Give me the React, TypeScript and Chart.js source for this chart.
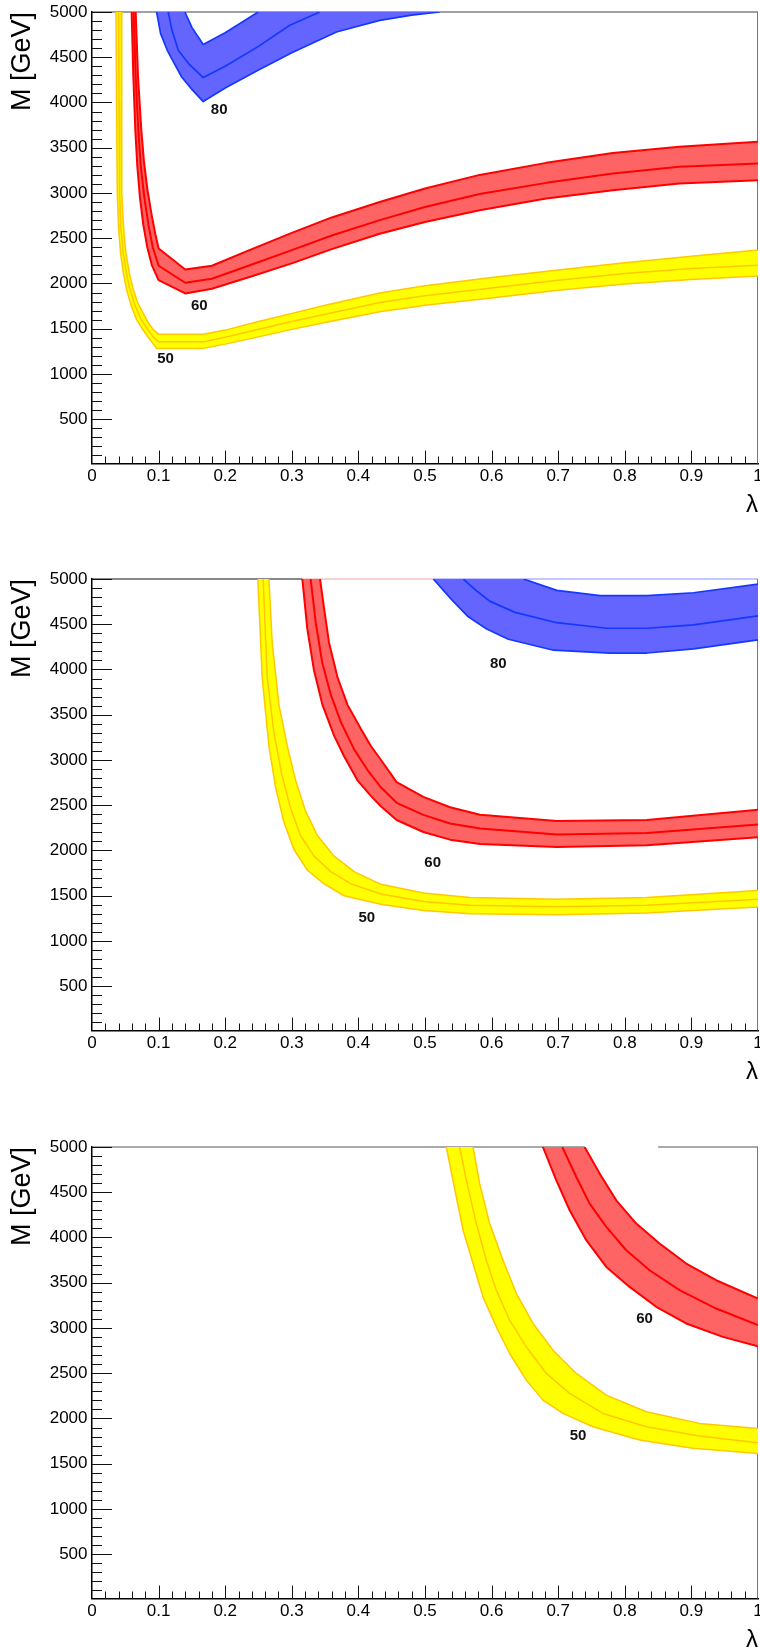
import React, { useEffect, useRef } from 'react';
import { Chart, registerables } from 'chart.js';

Chart.register(...registerables);

type Pt = [number, number];

// ---------- axis ticks ----------
const LAMBDA_TICKS = [0, 0.1, 0.2, 0.3, 0.4, 0.5, 0.6, 0.7, 0.8, 0.9, 1];
const M_TICKS = [500, 1000, 1500, 2000, 2500, 3000, 3500, 4000, 4500, 5000];
const M_MIN = 11;
const M_MAX = 5000;

// ---------- panel 1 ----------
const P1_50_LOW: Pt[] = [[0.036,5000],[0.0368,4000],[0.038,3000],[0.040,2600],[0.043,2330],[0.047,2120],[0.052,1930],[0.059,1750],[0.067,1600],[0.075,1505],[0.082,1430],[0.09,1350],[0.097,1283],[0.167,1283],[0.2,1330],[0.25,1410],[0.3,1493],[0.35,1570],[0.432,1688],[0.5,1760],[0.6,1840],[0.7,1925],[0.8,1995],[0.9,2045],[1,2082]];
const P1_50_MID: Pt[] = [[0.040,5000],[0.0406,4000],[0.0415,3000],[0.0435,2600],[0.047,2330],[0.0515,2120],[0.057,1930],[0.065,1750],[0.074,1600],[0.083,1500],[0.092,1410],[0.1,1355],[0.167,1355],[0.2,1405],[0.25,1495],[0.3,1580],[0.35,1660],[0.432,1790],[0.5,1865],[0.6,1950],[0.7,2035],[0.8,2110],[0.9,2165],[1,2203]];
const P1_50_HIGH: Pt[] = [[0.044,5000],[0.0443,4000],[0.045,3000],[0.048,2550],[0.051,2330],[0.056,2120],[0.062,1930],[0.069,1780],[0.077,1670],[0.085,1560],[0.092,1490],[0.1,1438],[0.167,1438],[0.2,1485],[0.25,1580],[0.3,1670],[0.35,1760],[0.432,1895],[0.5,1975],[0.6,2065],[0.7,2150],[0.8,2230],[0.9,2300],[1,2370]];

const P1_60_LOW: Pt[] = [[0.0595,5000],[0.062,4300],[0.065,3700],[0.068,3300],[0.072,2950],[0.077,2650],[0.083,2400],[0.09,2200],[0.1,2038],[0.14,1890],[0.18,1942],[0.24,2080],[0.3,2222],[0.36,2380],[0.432,2550],[0.5,2680],[0.582,2810],[0.682,2939],[0.782,3031],[0.882,3105],[1,3142]];
const P1_60_MID: Pt[] = [[0.0625,5000],[0.0655,4300],[0.0695,3700],[0.0732,3300],[0.0786,2950],[0.0847,2650],[0.0912,2400],[0.1,2196],[0.14,2008],[0.18,2052],[0.24,2210],[0.3,2369],[0.36,2530],[0.432,2700],[0.5,2845],[0.582,2990],[0.682,3112],[0.782,3215],[0.882,3289],[1,3326]];
const P1_60_HIGH: Pt[] = [[0.0656,5000],[0.069,4300],[0.074,3700],[0.078,3350],[0.083,3050],[0.089,2780],[0.095,2550],[0.1,2387],[0.14,2155],[0.18,2196],[0.24,2380],[0.3,2560],[0.36,2730],[0.432,2900],[0.5,3050],[0.582,3200],[0.682,3333],[0.782,3443],[0.882,3510],[1,3565]];

const P1_80_LOW: Pt[] = [[0.097,5000],[0.103,4761],[0.113,4577],[0.1346,4282],[0.15,4145],[0.167,4010],[0.2,4160],[0.25,4360],[0.3,4550],[0.367,4779],[0.432,4908],[0.48,4965],[0.522,5000]];
const P1_80_MID: Pt[] = [[0.1145,5000],[0.12,4800],[0.1295,4577],[0.145,4430],[0.167,4276],[0.2,4400],[0.25,4620],[0.297,4853],[0.342,5000]];
const P1_80_HIGH: Pt[] = [[0.1395,5000],[0.15,4830],[0.167,4640],[0.2,4770],[0.2495,5000]];

const P1_LABEL_TEXT = ['80', '60', '50'];
const P1_LABEL_LAMBDA = [0.191, 0.161, 0.1105];
const P1_LABEL_M = [3915, 1754, 1166];

// ---------- panel 2 ----------
const P2_50_LOW: Pt[] = [[0.249,5000],[0.2555,3916],[0.2656,3155],[0.2756,2699],[0.288,2318],[0.303,2014],[0.323,1786],[0.348,1633],[0.3785,1500],[0.4337,1405],[0.4975,1337],[0.5676,1302],[0.698,1291],[0.833,1310],[1,1375]];
const P2_50_MID: Pt[] = [[0.257,5000],[0.263,3916],[0.273,3307],[0.2846,2851],[0.298,2470],[0.313,2166],[0.3333,1938],[0.3584,1767],[0.3886,1633],[0.4337,1519],[0.4975,1436],[0.5676,1394],[0.698,1379],[0.833,1394],[1,1462]];
const P2_50_HIGH: Pt[] = [[0.2656,5000],[0.2706,4296],[0.2806,3612],[0.2932,3155],[0.3057,2775],[0.3208,2432],[0.3384,2166],[0.3635,1938],[0.3936,1767],[0.4337,1626],[0.4975,1531],[0.5676,1481],[0.698,1462],[0.833,1481],[1,1557]];

const P2_60_LOW: Pt[] = [[0.3158,5000],[0.3233,4448],[0.3333,3992],[0.3459,3612],[0.3635,3269],[0.3785,3041],[0.3986,2775],[0.4187,2603],[0.4337,2489],[0.4574,2337],[0.4975,2204],[0.5376,2120],[0.5827,2071],[0.6979,2040],[0.8332,2059],[1,2147]];
const P2_60_MID: Pt[] = [[0.3283,5000],[0.3358,4525],[0.3459,4068],[0.3584,3726],[0.3735,3421],[0.3936,3117],[0.4137,2889],[0.4337,2699],[0.4574,2527],[0.4975,2394],[0.5376,2299],[0.5827,2242],[0.6979,2177],[0.8332,2193],[1,2288]];
const P2_60_HIGH: Pt[] = [[0.3424,5000],[0.3484,4677],[0.3559,4296],[0.3685,3916],[0.3835,3612],[0.4036,3345],[0.4187,3155],[0.4337,3003],[0.4574,2756],[0.4975,2592],[0.5376,2478],[0.5827,2394],[0.6979,2326],[0.8332,2337],[1,2451]];

const P2_80_LOW: Pt[] = [[0.5125,5000],[0.54,4772],[0.565,4582],[0.5927,4448],[0.6252,4334],[0.6929,4213],[0.778,4182],[0.8332,4182],[0.9033,4228],[1,4327]];
const P2_80_MID: Pt[] = [[0.5576,5000],[0.5777,4867],[0.5977,4753],[0.6353,4631],[0.6979,4517],[0.7731,4456],[0.8332,4456],[0.9033,4494],[1,4593]];
const P2_80_HIGH: Pt[] = [[0.6478,5000],[0.6979,4874],[0.763,4817],[0.8332,4817],[0.9033,4848],[1,4943]];

const P2_LABEL_TEXT = ['80', '60', '50'];
const P2_LABEL_LAMBDA = [0.61, 0.5115, 0.4126];
const P2_LABEL_M = [4060, 1862, 1261];

// ---------- panel 3 ----------
const P3_50_LOW: Pt[] = [[0.532,5000],[0.545,4522],[0.5572,4080],[0.5721,3712],[0.5871,3344],[0.6071,3013],[0.6271,2718],[0.6521,2424],[0.6771,2203],[0.7072,2056],[0.7522,1909],[0.8222,1762],[0.9022,1670],[1,1614]];
const P3_50_MID: Pt[] = [[0.552,5000],[0.5621,4632],[0.5771,4154],[0.5921,3749],[0.6071,3418],[0.6271,3086],[0.6521,2792],[0.6821,2498],[0.7172,2277],[0.7672,2056],[0.8322,1909],[0.9122,1806],[1,1732]];
const P3_50_HIGH: Pt[] = [[0.5721,5000],[0.5821,4595],[0.5971,4154],[0.6171,3749],[0.6372,3381],[0.6622,3050],[0.6922,2755],[0.7272,2498],[0.7722,2258],[0.8322,2074],[0.9122,1946],[1,1890]];

const P3_60_LOW: Pt[] = [[0.677,5000],[0.6972,4632],[0.7172,4301],[0.7422,3970],[0.7722,3675],[0.8072,3454],[0.8472,3234],[0.8922,3050],[0.9472,2902],[1,2799]];
const P3_60_MID: Pt[] = [[0.7062,5000],[0.7272,4669],[0.7472,4374],[0.7722,4117],[0.8022,3859],[0.8372,3638],[0.8822,3418],[0.9372,3215],[1,3031]];
const P3_60_HIGH: Pt[] = [[0.7397,5000],[0.7622,4706],[0.7872,4411],[0.8172,4154],[0.8522,3933],[0.8922,3712],[0.9372,3528],[1,3326]];

const P3_LABEL_TEXT = ['60', '50'];
const P3_LABEL_LAMBDA = [0.8297, 0.7297];
const P3_LABEL_M = [3105, 1806];

// ---------- styling ----------
const FONT = '"Liberation Sans", Arial, Helvetica, sans-serif';

const BAND_STYLE: Record<number, { fill: string; line: string; width: number }> = {
  50: { fill: '#ffff00', line: '#ffc800', width: 1.5 },
  60: { fill: '#ff6464', line: '#ff0000', width: 2 },
  80: { fill: '#6464ff', line: '#1438ff', width: 1.7 },
};

interface Band { level: number; low: Pt[]; mid: Pt[]; high: Pt[]; }
interface PanelDef {
  bands: Band[];
  labelText: string[];
  labelLambda: number[];
  labelM: number[];
  topFrame: [number, number, string][];
}

const PANELS: PanelDef[] = [
  {
    bands: [
      { level: 50, low: P1_50_LOW, mid: P1_50_MID, high: P1_50_HIGH },
      { level: 60, low: P1_60_LOW, mid: P1_60_MID, high: P1_60_HIGH },
      { level: 80, low: P1_80_LOW, mid: P1_80_MID, high: P1_80_HIGH },
    ],
    labelText: P1_LABEL_TEXT, labelLambda: P1_LABEL_LAMBDA, labelM: P1_LABEL_M,
    topFrame: [[0, 1, '#444']],
  },
  {
    bands: [
      { level: 50, low: P2_50_LOW, mid: P2_50_MID, high: P2_50_HIGH },
      { level: 60, low: P2_60_LOW, mid: P2_60_MID, high: P2_60_HIGH },
      { level: 80, low: P2_80_LOW, mid: P2_80_MID, high: P2_80_HIGH },
    ],
    labelText: P2_LABEL_TEXT, labelLambda: P2_LABEL_LAMBDA, labelM: P2_LABEL_M,
    topFrame: [[0, 0.3158, '#111'], [0.3158, 0.5125, '#f4a0a0'], [0.5125, 1, '#8c8cff']],
  },
  {
    bands: [
      { level: 50, low: P3_50_LOW, mid: P3_50_MID, high: P3_50_HIGH },
      { level: 60, low: P3_60_LOW, mid: P3_60_MID, high: P3_60_HIGH },
    ],
    labelText: P3_LABEL_TEXT, labelLambda: P3_LABEL_LAMBDA, labelM: P3_LABEL_M,
    topFrame: [[0, 0.74, '#555'], [0.85, 1, '#555']],
  },
];

const PANEL_TOPS = [0, 567, 1135];
const CANVAS_W = 760;
const CANVAS_H = 520;

const xy = (p: Pt) => ({ x: p[0], y: p[1] });

function buildDatasets(bands: Band[]) {
  const ds: any[] = [];
  for (const b of bands) {
    const st = BAND_STYLE[b.level];
    // filled band (higher order = drawn earlier, i.e. underneath)
    ds.push({
      data: [...b.low, ...[...b.high].reverse()].map(xy),
      fill: 'shape',
      order: 2,
      backgroundColor: st.fill,
      borderColor: 'rgba(0,0,0,0)',
      borderWidth: 1,
      pointRadius: 0,
      pointHoverRadius: 0,
    });
    for (const line of [b.low, b.mid, b.high]) {
      ds.push({
        data: line.map(xy),
        fill: false,
        order: 1,
        borderColor: st.line,
        backgroundColor: st.line,
        borderWidth: st.width,
        borderJoinStyle: 'round',
        pointRadius: 0,
        pointHoverRadius: 0,
      });
    }
  }
  return ds;
}

function decorPlugin(panel: PanelDef) {
  return {
    id: 'rootDecor',
    beforeDatasetsDraw(chart: any) {
      const { ctx, chartArea: a, scales } = chart;
      const x = scales.x;
      ctx.save();
      ctx.lineWidth = 1.2;
      for (const [from, to, color] of panel.topFrame) {
        ctx.strokeStyle = color;
        ctx.beginPath();
        ctx.moveTo(x.getPixelForValue(from), a.top);
        ctx.lineTo(x.getPixelForValue(to), a.top);
        ctx.stroke();
      }
      ctx.strokeStyle = '#777';
      ctx.lineWidth = 1;
      ctx.beginPath();
      ctx.moveTo(a.right - 0.5, a.top);
      ctx.lineTo(a.right - 0.5, a.bottom);
      ctx.stroke();
      ctx.restore();
    },
    afterDatasetsDraw(chart: any) {
      const { ctx, chartArea: a, scales } = chart;
      const x = scales.x;
      const y = scales.y;
      ctx.save();
      ctx.strokeStyle = '#111';
      ctx.lineWidth = 1;
      // y ticks, drawn inward
      for (let m = 100; m <= M_MAX; m += 100) {
        const py = Math.round(y.getPixelForValue(m)) + 0.5;
        const len = m % 500 === 0 ? 20 : 10;
        ctx.beginPath();
        ctx.moveTo(a.left, py);
        ctx.lineTo(a.left + len, py);
        ctx.stroke();
      }
      // x ticks, drawn inward
      for (let i = 1; i < 50; i++) {
        const px = Math.round(x.getPixelForValue(i / 50)) + 0.5;
        const len = i % 5 === 0 ? 13 : 7;
        ctx.beginPath();
        ctx.moveTo(px, a.bottom);
        ctx.lineTo(px, a.bottom - len);
        ctx.stroke();
      }
      // contour labels
      ctx.fillStyle = '#111';
      ctx.font = `bold 15px ${FONT}`;
      ctx.textAlign = 'center';
      ctx.textBaseline = 'middle';
      panel.labelText.forEach((t, i) => {
        ctx.fillText(t, x.getPixelForValue(panel.labelLambda[i]), y.getPixelForValue(panel.labelM[i]));
      });
      ctx.restore();
    },
  };
}

function PanelChart({ panel, top }: { panel: PanelDef; top: number }) {
  const ref = useRef<HTMLCanvasElement>(null);
  useEffect(() => {
    const canvas = ref.current;
    if (!canvas) return;
    const chart = new Chart(canvas, {
      type: 'line',
      data: { datasets: buildDatasets(panel.bands) },
      options: {
        animation: false,
        responsive: false,
        devicePixelRatio: 1,
        events: [],
        layout: { padding: { top: 12, right: 2, left: 0, bottom: 0 } },
        plugins: { legend: { display: false }, tooltip: { enabled: false } },
        scales: {
          x: {
            type: 'linear',
            min: 0,
            max: 1,
            grid: { display: false, drawTicks: false },
            border: { display: true, color: '#000', width: 1.5 },
            ticks: {
              padding: 3,
              color: '#000',
              font: { family: FONT, size: 17 },
              maxRotation: 0,
              autoSkip: false,
              callback: (v: any) => (v === 0 ? '0' : v === 1 ? '1' : Number(v).toFixed(1)),
            },
            afterBuildTicks: (s: any) => { s.ticks = LAMBDA_TICKS.map((v) => ({ value: v })); },
            afterFit: (s: any) => { s.height = 56.5; s.paddingLeft = 0; s.paddingRight = 0; },
            title: {
              display: true,
              text: 'λ',
              align: 'end',
              color: '#000',
              font: { family: FONT, size: 24 },
              padding: { top: 0, bottom: 0 },
            },
          },
          y: {
            type: 'linear',
            min: M_MIN,
            max: M_MAX,
            grid: { display: false, drawTicks: false },
            border: { display: true, color: '#000', width: 1.5 },
            ticks: {
              padding: 4.5,
              color: '#000',
              font: { family: FONT, size: 17 },
              autoSkip: false,
              callback: (v: any) => String(v),
            },
            afterBuildTicks: (s: any) => { s.ticks = M_TICKS.map((v) => ({ value: v })); },
            afterFit: (s: any) => { s.width = 92; s.paddingTop = 0; s.paddingBottom = 0; },
            title: {
              display: true,
              text: 'M [GeV]',
              align: 'end',
              color: '#000',
              font: { family: FONT, size: 27 },
              padding: { top: 6, bottom: 0 },
            },
          },
        },
      } as any,
      plugins: [decorPlugin(panel)],
    });
    return () => chart.destroy();
  }, [panel]);
  return (
    <canvas
      ref={ref}
      width={CANVAS_W}
      height={CANVAS_H}
      style={{ position: 'absolute', left: 0, top, width: CANVAS_W, height: CANVAS_H }}
    />
  );
}

export default function App() {
  return (
    <div
      style={{
        position: 'absolute',
        left: 0,
        top: 0,
        width: 760,
        height: 1650,
        overflow: 'hidden',
        background: '#fff',
      }}
    >
      {PANELS.map((p, i) => (
        <PanelChart key={i} panel={p} top={PANEL_TOPS[i]} />
      ))}
    </div>
  );
}
